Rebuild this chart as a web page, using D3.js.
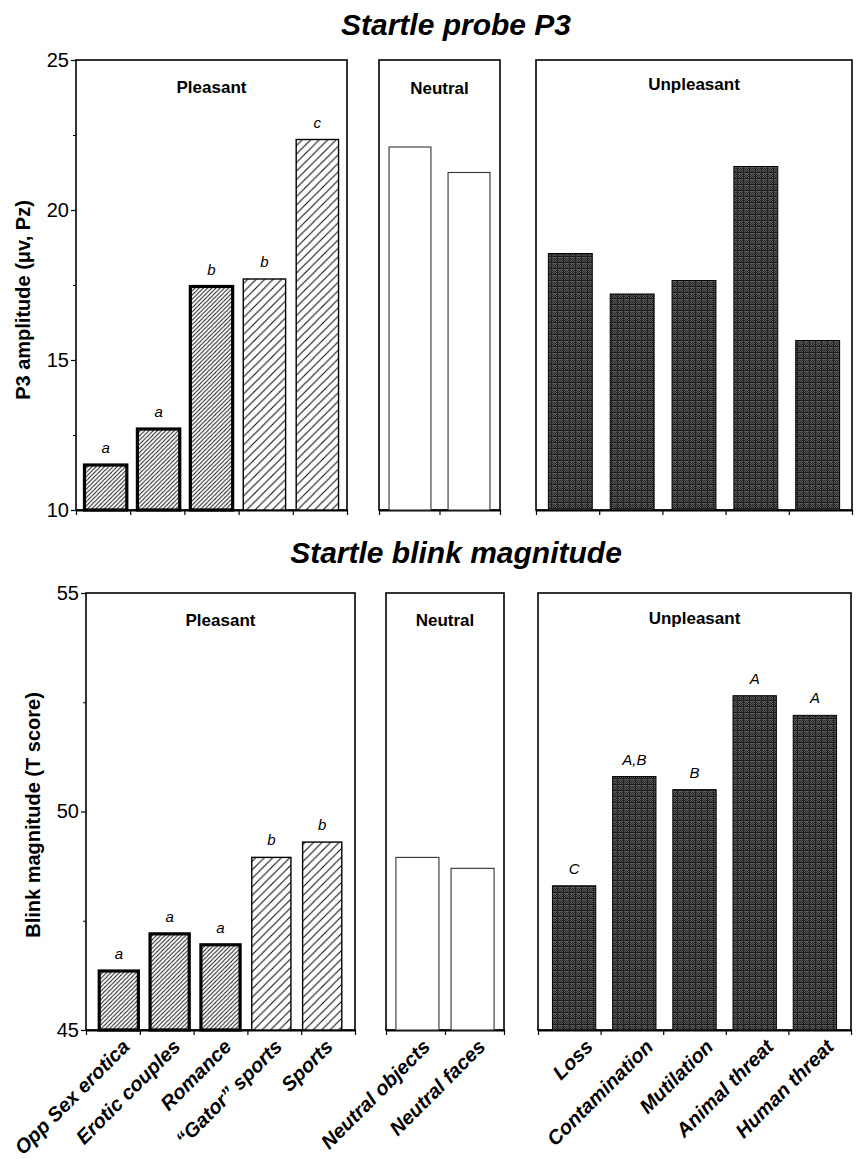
<!DOCTYPE html>
<html>
<head>
<meta charset="utf-8">
<script src="https://cdn.jsdelivr.net/npm/d3@7"></script>
<style>
  body { margin: 0; background: #fff; }
  text { font-family: "Liberation Sans", Arial, Helvetica, sans-serif; fill: #000; }
</style>
</head>
<body>
<svg id="chart" width="865" height="1159"></svg>
<script>
// categories
var pleasantCats = ["Opp Sex erotica", "Erotic couples", "Romance", "\u201cGator\u201d sports", "Sports"];
var neutralCats = ["Neutral objects", "Neutral faces"];
var unpleasantCats = ["Loss", "Contamination", "Mutilation", "Animal threat", "Human threat"];

// startle probe P3 (uV, Pz)
var p3Pleasant = [11.5, 12.7, 17.45, 17.7, 22.35];
var p3Neutral = [22.1, 21.25];
var p3Unpleasant = [18.55, 17.2, 17.65, 21.45, 15.65];
var p3Letters = ["a", "a", "b", "b", "c"];

// startle blink magnitude (T score)
var blinkPleasant = [46.35, 47.2, 46.95, 48.95, 49.3];
var blinkNeutral = [48.95, 48.7];
var blinkUnpleasant = [48.3, 50.8, 50.5, 52.65, 52.2];
var blinkPleasantLetters = ["a", "a", "a", "b", "b"];
var blinkUnpleasantLetters = ["C", "A,B", "B", "A", "A"];

// axis ticks
var p3Ticks = [10, 15, 20, 25];
var p3Minor = [12.5, 17.5, 22.5];
var blinkTicks = [45, 50, 55];
var blinkMinor = [47.5, 52.5];

var svg = d3.select("#chart");
var defs = svg.append("defs");

function hatch(id, step, sw) {
    var p = defs.append("pattern")
        .attr("id", id)
        .attr("patternUnits", "userSpaceOnUse")
        .attr("width", step)
        .attr("height", step);
    p.append("rect").attr("width", step).attr("height", step).attr("fill", "#fff");
    p.append("path")
        .attr("d", "M0," + step + "L" + step + ",0M-1,1L1,-1M" + (step - 1) + "," + (step + 1) + "L" + (step + 1) + "," + (step - 1))
        .attr("stroke", "#111")
        .attr("stroke-width", sw);
}
hatch("dense", 4.2, 1.0);
hatch("sparse", 8.5, 1.1);

// dark halftone for unpleasant bars
var st = defs.append("pattern")
    .attr("id", "stipple")
    .attr("patternUnits", "userSpaceOnUse")
    .attr("width", 6)
    .attr("height", 6);
st.append("rect").attr("width", 6).attr("height", 6).attr("fill", "#5a5a5a");
st.append("path").attr("d", "M0,0h1v1h-1zM2,0h1v1h-1zM4,0h1v1h-1zM1,1h1v1h-1zM3,1h1v1h-1zM5,1h1v1h-1zM0,2h1v1h-1zM2,2h1v1h-1zM4,2h1v1h-1zM1,3h1v1h-1zM3,3h1v1h-1zM5,3h1v1h-1z").attr("fill", "#262626");
st.append("rect").attr("y", 4).attr("width", 6).attr("height", 1).attr("fill", "#1a1a1a");
st.append("rect").attr("x", 5).attr("width", 1).attr("height", 6).attr("fill", "#222");

function panel(o) {
    var g = svg.append("g");
    var y = o.y;
    var top = y.range()[1], bottom = y.range()[0];

    var x = d3.scaleBand()
        .domain(o.cats)
        .range([o.x0, o.x1])
        .paddingInner(o.pi)
        .paddingOuter(o.po);

    // box frame
    g.append("rect")
        .attr("x", o.x0).attr("y", top)
        .attr("width", o.x1 - o.x0).attr("height", bottom - top)
        .attr("fill", "none").attr("stroke", "#000").attr("stroke-width", 1.6);

    // category ticks below the baseline
    var tx = d3.scaleLinear().domain([0, o.cats.length]).range([o.x0, o.x1]);
    g.append("g")
        .attr("transform", "translate(0," + bottom + ")")
        .call(d3.axisBottom(tx).tickValues(d3.range(o.cats.length + 1)).tickFormat("").tickSize(5).tickSizeOuter(0))
        .call(function (a) { a.select(".domain").attr("stroke-width", 1.8); a.selectAll(".tick line").attr("stroke-width", 1.2); });

    g.selectAll(".bar")
        .data(o.vals)
        .enter()
        .append("rect")
        .attr("class", "bar")
        .attr("x", function (d, i) { return x(o.cats[i]); })
        .attr("y", function (d) { return y(d); })
        .attr("width", x.bandwidth())
        .attr("height", function (d) { return bottom - y(d); })
        .attr("fill", function (d, i) { return o.fill(i); })
        .attr("stroke", o.stroke || "#000")
        .attr("stroke-width", function (d, i) { return o.sw(i); });

    if (o.letters) {
        g.selectAll(".sig")
            .data(o.vals)
            .enter()
            .append("text")
            .attr("class", "sig")
            .attr("x", function (d, i) { return x(o.cats[i]) + x.bandwidth() / 2; })
            .attr("y", function (d) { return y(d) - 12; })
            .attr("text-anchor", "middle")
            .attr("font-style", "italic")
            .attr("font-size", 15)
            .text(function (d, i) { return o.letters[i]; });
    }

    g.append("text")
        .attr("x", (o.x0 + o.x1) / 2)
        .attr("y", top + o.labelDy)
        .attr("text-anchor", "middle")
        .attr("font-weight", "bold")
        .attr("font-size", 17)
        .text(o.label);

    if (o.showNames) {
        g.selectAll(".name")
            .data(o.cats)
            .enter()
            .append("text")
            .attr("class", "name")
            .attr("transform", function (d) {
                return "translate(" + (x(d) + x.bandwidth() / 2 + o.nameDx) + "," + (bottom + 18) + ")rotate(-45)";
            })
            .attr("text-anchor", "end")
            .attr("font-weight", "bold")
            .attr("font-style", "italic")
            .attr("font-size", 20)
            .text(function (d) { return d; });
    }
    return g;
}

function yAxis(y, x0, ticks, minor, label, labelX, labelY) {
    svg.append("g")
        .attr("transform", "translate(" + x0 + ",0)")
        .call(d3.axisLeft(y).tickValues(ticks).tickSize(5).tickPadding(2))
        .call(function (a) {
            a.select(".domain").remove();
            a.selectAll("text").attr("font-size", 20).attr("font-family", "Liberation Sans, Arial, sans-serif").attr("fill", "#000");
            a.selectAll(".tick line").attr("stroke-width", 1.2);
        });
    svg.append("g")
        .attr("transform", "translate(" + x0 + ",0)")
        .call(d3.axisLeft(y).tickValues(minor).tickSize(3).tickFormat(""))
        .call(function (a) { a.select(".domain").remove(); });
    svg.append("text")
        .attr("transform", "translate(" + labelX + "," + labelY + ")rotate(-90)")
        .attr("text-anchor", "middle")
        .attr("font-weight", "bold")
        .attr("font-size", 20)
        .text(label);
}

function pleasantFill(i) { return i < 3 ? "url(#dense)" : "url(#sparse)"; }
function pleasantSw(i) { return i < 3 ? 3.2 : 1.4; }

// ---------- Startle probe P3 ----------
svg.append("text")
    .attr("x", 456).attr("y", 35)
    .attr("text-anchor", "middle")
    .attr("font-weight", "bold").attr("font-style", "italic").attr("font-size", 30)
    .text("Startle probe P3");

var yP3 = d3.scaleLinear().domain([10, 25]).range([510, 60]);

panel({ cats: pleasantCats, vals: p3Pleasant, letters: p3Letters, x0: 76, x1: 347, y: yP3,
        pi: 0.2, po: 0.16, fill: pleasantFill, sw: pleasantSw, label: "Pleasant", labelDy: 33 });
panel({ cats: neutralCats, vals: p3Neutral, x0: 379, x1: 500, y: yP3,
        pi: 0.29, po: 0.17, fill: function () { return "#fff"; }, sw: function () { return 1.1; }, stroke: "#333",
        label: "Neutral", labelDy: 34 });
panel({ cats: unpleasantCats, vals: p3Unpleasant, x0: 536, x1: 852, y: yP3,
        pi: 0.29, po: 0.2, fill: function () { return "url(#stipple)"; }, sw: function () { return 1; },
        label: "Unpleasant", labelDy: 30 });
yAxis(yP3, 76, p3Ticks, p3Minor, "P3 amplitude (\u03bcv, Pz)", 30, 300);

// ---------- Startle blink magnitude ----------
svg.append("text")
    .attr("x", 456).attr("y", 563)
    .attr("text-anchor", "middle")
    .attr("font-weight", "bold").attr("font-style", "italic").attr("font-size", 30)
    .text("Startle blink magnitude");

var yBlink = d3.scaleLinear().domain([45, 55]).range([1030, 593]);

panel({ cats: pleasantCats, vals: blinkPleasant, letters: blinkPleasantLetters, x0: 86, x1: 355, y: yBlink,
        pi: 0.23, po: 0.26, fill: pleasantFill, sw: pleasantSw, label: "Pleasant", labelDy: 33, showNames: true, nameDx: 12 });
panel({ cats: neutralCats, vals: blinkNeutral, x0: 386, x1: 504, y: yBlink,
        pi: 0.22, po: 0.18, fill: function () { return "#fff"; }, sw: function () { return 1.1; }, stroke: "#333",
        label: "Neutral", labelDy: 33, showNames: true, nameDx: 14 });
panel({ cats: unpleasantCats, vals: blinkUnpleasant, letters: blinkUnpleasantLetters, x0: 538, x1: 851, y: yBlink,
        pi: 0.28, po: 0.24, fill: function () { return "url(#stipple)"; }, sw: function () { return 1; },
        label: "Unpleasant", labelDy: 31, showNames: true, nameDx: 20 });
yAxis(yBlink, 86, blinkTicks, blinkMinor, "Blink magnitude (T score)", 40, 815);
</script>
</body>
</html>
